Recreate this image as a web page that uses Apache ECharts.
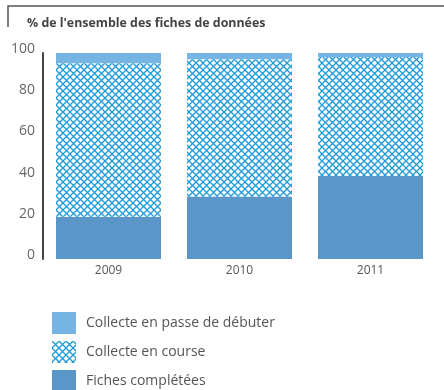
<!DOCTYPE html>
<html>
<head>
<meta charset="utf-8">
<script src="https://cdn.jsdelivr.net/npm/echarts@6/dist/echarts.min.js"></script>
<style>
  html, body { margin: 0; padding: 0; background: #fff; }
  #chart { width: 444px; height: 390px; }
</style>
</head>
<body>
<div id="chart"></div>
<script>
// Years and stacked shares (% of all data sheets)
const years = ['2009', '2010', '2011'];
const fichesCompletees = [20.5, 30.3, 40.3];
const collecteEnCourse = [74.5, 66.7, 57.7];
const collecteAdebuter = [5, 3, 2];
const yTicks = [0, 20, 40, 60, 80, 100];

// Diamond lattice fill for the "in progress" segment
function latticeTile() {
  const s = 7;
  const c = document.createElement('canvas');
  c.width = s; c.height = s;
  const g = c.getContext('2d');
  g.fillStyle = '#ffffff';
  g.fillRect(0, 0, s, s);
  g.strokeStyle = '#1c9bd8';
  g.lineWidth = 1.3;
  g.beginPath();
  g.moveTo(0, 0); g.lineTo(s, s);
  g.moveTo(s, 0); g.lineTo(0, s);
  g.stroke();
  return c;
}

const chart = echarts.init(document.getElementById('chart'), null, { renderer: 'canvas' });
const font = "'Open Sans', 'Noto Sans', sans-serif";

chart.setOption({
  animation: false,
  graphic: [
    { type: 'polyline', shape: { points: [[8, 27], [8, 6], [444, 6]] },
      style: { stroke: '#555', lineWidth: 1.5, fill: null } },
    { type: 'text', left: 27, top: 17,
      style: { text: "% de l'ensemble des fiches de données", font: "bold 12.4px " + font, fill: '#444' } }
  ],
  grid: { left: 43, right: 8, top: 53, bottom: 131 },
  xAxis: {
    type: 'category',
    data: years,
    axisLine: { show: false },
    axisTick: { show: false },
    axisLabel: { color: '#555', fontSize: 12, fontFamily: font, margin: 6 }
  },
  yAxis: {
    type: 'value',
    min: yTicks[0], max: yTicks[yTicks.length - 1], interval: 20,
    axisLine: { show: true, lineStyle: { color: '#444', width: 2 } },
    axisTick: { show: false },
    splitLine: { show: false },
    axisLabel: { color: '#666', fontSize: 14, fontFamily: font, margin: 8, verticalAlign: 'bottom', padding: [0, 0, -3, 0] }
  },
  legend: {
    orient: 'vertical',
    left: 52, top: 312, height: 120,
    padding: 0,
    itemWidth: 24, itemHeight: 22, itemGap: 7,
    icon: 'rect',
    textStyle: { color: '#555', fontSize: 14, fontFamily: font, padding: [0, 0, 0, 5] },
    data: ['Collecte en passe de débuter', 'Collecte en course', 'Fiches complétées']
  },
  series: [
    { name: 'Fiches complétées', type: 'bar', stack: 'tot', barWidth: 105,
      itemStyle: { color: '#5a97c8' }, data: fichesCompletees },
    { name: 'Collecte en course', type: 'bar', stack: 'tot',
      itemStyle: { color: { image: latticeTile(), repeat: 'repeat' } }, data: collecteEnCourse },
    { name: 'Collecte en passe de débuter', type: 'bar', stack: 'tot',
      itemStyle: { color: '#75b4e3' }, data: collecteAdebuter }
  ]
});
</script>
</body>
</html>
